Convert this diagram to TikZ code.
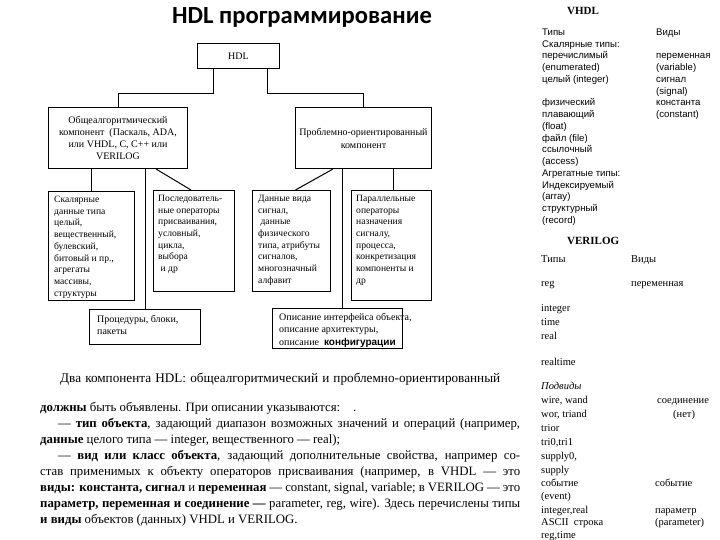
\documentclass[tikz,border=0pt]{standalone}
\usepackage{fontspec}
\setmainfont{Liberation Serif}
\newfontfamily\sansf{Liberation Sans}
\newfontfamily\titlef{Carlito}
\begin{document}
\begin{tikzpicture}[x=1pt,y=-1pt,
  box/.style={draw, line width=1pt, anchor=north west, inner sep=0pt},
  conn/.style={line width=1pt},
  bxt/.style={anchor=north west, inner sep=0pt, align=left, font=\fontsize{9.6}{11.7}\selectfont},
  body/.style={anchor=base west, inner sep=0pt, font=\fontsize{12.8}{15}\selectfont},
  vh/.style={anchor=base west, inner sep=0pt, font=\sansf\fontsize{9.6}{11}\selectfont},
  vr/.style={anchor=base west, inner sep=0pt, font=\fontsize{10.5}{12}\selectfont},
  head/.style={anchor=base west, inner sep=0pt, font=\bfseries\fontsize{11}{12}\selectfont}]
\useasboundingbox (0,0) rectangle (720,540);
\fill[white] (0,0) rectangle (720,540);

% title
\node[anchor=west, inner sep=0pt, font=\titlef\bfseries\fontsize{24.6}{28}\selectfont] (title) at (172,17) {HDL программирование};

% boxes
\node[box, minimum width=82pt, minimum height=25pt, font=\fontsize{10}{12}\selectfont] (hdl) at (197,43) {HDL};
\node[box, minimum width=139pt, minimum height=61pt, align=center, font=\fontsize{10}{12}\selectfont] (b1) at (48,107)
  {Общеалгоритмический\\компонент \ (Паскаль, ADA,\\или VHDL, C, C++ или\\VERILOG};
\node[box, minimum width=136pt, minimum height=61pt, align=center, font=\fontsize{10}{13}\selectfont] (b2) at (295,107)
  {Проблемно-ориентированный\\компонент};
\node[box, minimum width=86pt, minimum height=109pt] (b3) at (48,191) {};
\node[box, minimum width=81pt, minimum height=101pt] (b4) at (153,190) {};
\node[box, minimum width=78pt, minimum height=101pt] (b5) at (252,190) {};
\node[box, minimum width=80pt, minimum height=110pt] (b6) at (351,190) {};
\node[box, minimum width=111pt, minimum height=35pt] (b7) at (89,309) {};
\node[box, minimum width=130pt, minimum height=40pt] (b8) at (272,308) {};

\node[bxt] (t3) at ([shift={(6,5)}]b3.north west) {Скалярные\\данные типа\\целый,\\вещественный,\\булевский,\\битовый и пр.,\\агрегаты\\массивы,\\структуры};
\node[bxt] (t4) at ([shift={(5,5)}]b4.north west) {Последователь-\\ные операторы\\присваивания,\\условный,\\цикла,\\выбора\\\ и др};
\node[bxt] (t5) at ([shift={(6,5)}]b5.north west) {Данные вида\\сигнал,\\\ данные\\физического\\типа, атрибуты\\сигналов,\\многозначный\\алфавит};
\node[bxt] (t6) at ([shift={(5,5)}]b6.north west) {Параллельные\\операторы\\назначения\\сигналу,\\процесса,\\конкретизация\\компоненты и\\др};
\node[bxt, font=\fontsize{10}{12.5}\selectfont] (t7) at ([shift={(8,6)}]b7.north west) {Процедуры, блоки,\\пакеты};
\node[bxt, font=\fontsize{10}{12.5}\selectfont] (t8) at ([shift={(7,5)}]b8.north west) {Описание интерфейса объекта,\\описание архитектуры,\\описание \ {\sansf\bfseries конфигурации}};

% connectors
\draw[conn] ([xshift=16pt]hdl.south west) -- ++(0,24.7) -| (b1.north);
\draw[conn] ([xshift=-13pt]hdl.south east) -- ++(0,24.7) -| (b2.north);
\draw[conn] (b3.north |- b1.south) -- (b3.north);
\draw[conn] (b7.north |- b1.south) -- (b7.north);
\draw[conn] ([xshift=-32pt]b1.south east) -- ([xshift=-3pt]b4.north);
\draw[conn] ([xshift=38pt]b2.south west) -- ([xshift=4pt]b5.north);
\coordinate (c8) at ([xshift=5pt]b8.north);
\draw[conn] (c8 |- b2.south) -- (c8);
\coordinate (c6) at ([xshift=2pt]b6.north);
\draw[conn] (c6 |- b2.south) -- (c6);

% body text
\node[body, font=\fontsize{13.2}{15}\selectfont] (l1) at (60,382) {\makebox[440pt][s]{Два компонента HDL: общеалгоритмический и проблемно-ориентированный}};
\node[body] (l2) at (40,411) {\textbf{должны} быть объявлены. При описании указываются:\quad .};
\node[body] (l3) at (58,427) {\makebox[462pt][s]{— \textbf{тип объекта}, задающий диапазон возможных значений и операций (например,}};
\node[body] (l4) at (40,443) {\textbf{данные} целого типа — integer, вещественного — real);};
\node[body] (l5) at (58,459) {\makebox[462pt][s]{— \textbf{вид или класс объекта}, задающий дополнительные свойства, например со-}};
\node[body] (l6) at (40,475) {\makebox[480pt][s]{став применимых к объекту операторов присваивания (например, в VHDL — это}};
\node[body] (l7) at (40,491) {\makebox[480pt][s]{\textbf{виды: константа, сигнал} и \textbf{переменная} — constant, signal, variable; в VERILOG — это}};
\node[body] (l8) at (40,507) {\makebox[480pt][s]{\textbf{параметр, переменная и соединение —} parameter, reg, wire). Здесь перечислены типы}};
\node[body] (l9) at (40,523) {\textbf{и виды} объектов (данных) VHDL и VERILOG.};

% VHDL column
\node[head] (vhdl) at (567,15) {VHDL};
\foreach \t/\r in {Типы/0, {Скалярные типы:}/1, перечислимый/2, (enumerated)/3, {целый (integer)}/4,
  физический/6, плавающий/7, (float)/8, {файл (file)}/9, ссылочный/10, (access)/11, {Агрегатные типы:}/12,
  Индексируемый/13, (array)/14, структурный/15, (record)/16}
  \node[vh] (vl\r) at (542,35.5+11.75*\r) {\t};
\foreach \t/\r in {Виды/0, переменная/2, (variable)/3, сигнал/4, (signal)/5, константа/6, (constant)/7}
  \node[vh] (vr\r) at (656,35.5+11.75*\r) {\t};

% VERILOG column
\node[head] (verilog) at (567,244) {VERILOG};
\foreach \t/\y in {Типы/262, reg/286, integer/311, time/325, real/339, realtime/365,
  {\textit{Подвиды}}/389, {wire, wand}/403, {wor, triand}/417, trior/431, {tri0,tri1}/445, {supply0,}/459,
  supply/473, событие/486, (event)/499, {integer,real}/513, {ASCII \ строка}/525, {reg,time}/538}
  \node[vr] (gl\y) at (541,\y) {\t};
\node[vr] (gv1) at (631,262) {Виды};
\node[vr] (gv2) at (631,286) {переменная};
\node[vr] (gv3) at (657,403) {соединение};
\node[vr] (gv4) at (673,417) {(нет)};
\node[vr] (gv5) at (655,486) {событие};
\node[vr] (gv6) at (655,513) {параметр};
\node[vr] (gv7) at (655,525) {(parameter)};
\end{tikzpicture}
\end{document}
